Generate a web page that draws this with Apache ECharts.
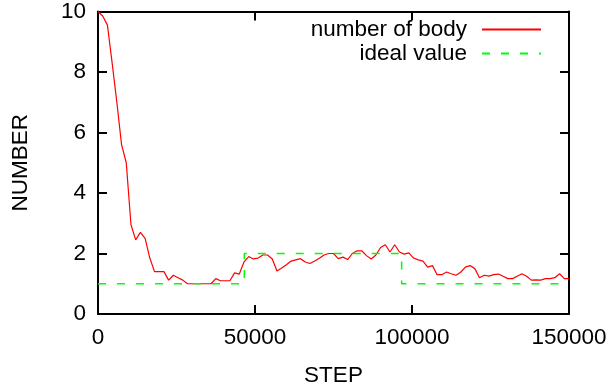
<!DOCTYPE html>
<html>
<head>
<meta charset="utf-8">
<script src="https://cdn.jsdelivr.net/npm/echarts@6/dist/echarts.min.js"></script>
<style>html,body{margin:0;padding:0;background:#fff}#c{width:614px;height:392px}</style>
</head>
<body>
<div id="c"></div>
<script>
var steps = [0,1500,3000,4500,6000,7500,9000,10500,12000,13500,15000,16500,18000,19500,21000,22500,24000,25500,27000,28500,30000,31500,33000,34500,36000,37500,39000,40500,42000,43500,45000,46500,48000,49500,51000,52500,54000,55500,57000,58500,60000,61500,63000,64500,66000,67500,69000,70500,72000,73500,75000,76500,78000,79500,81000,82500,84000,85500,87000,88500,90000,91500,93000,94500,96000,97500,99000,100500,102000,103500,105000,106500,108000,109500,111000,112500,114000,115500,117000,118500,120000,121500,123000,124500,126000,127500,129000,130500,132000,133500,135000,136500,138000,139500,141000,142500,144000,145500,147000,148500,150000];
var bodyCount = [10.0,9.85,9.55,8.3,7.0,5.6,5.0,2.95,2.45,2.7,2.5,1.85,1.4,1.4,1.4,1.12,1.28,1.2,1.12,1.0,1.0,1.0,1.0,1.0,1.0,1.17,1.1,1.1,1.1,1.36,1.32,1.72,1.9,1.82,1.85,1.95,1.95,1.82,1.42,1.52,1.63,1.75,1.79,1.83,1.72,1.67,1.75,1.84,1.95,2.0,2.0,1.83,1.88,1.8,2.0,2.09,2.09,1.93,1.82,1.95,2.2,2.29,2.05,2.29,2.05,1.98,2.02,1.85,1.79,1.75,1.55,1.6,1.3,1.3,1.39,1.33,1.28,1.38,1.55,1.6,1.5,1.2,1.28,1.25,1.3,1.32,1.25,1.17,1.17,1.25,1.33,1.25,1.12,1.13,1.12,1.17,1.17,1.2,1.33,1.17,1.17];
var idealSteps = [0,46600,46600,96700,96700,150000];
var idealValues = [1,1,2,2,1,1];
var xTicks = [0,50000,100000,150000];
var yTicks = [0,2,4,6,8,10];

var FONT = "'Liberation Sans', Arial, sans-serif";
var FS = 22.5;
var bodyData = steps.map(function(s,i){return [s, bodyCount[i]];});
var idealData = idealSteps.map(function(s,i){return [s, idealValues[i]];});

function xAx(pos, show){
  return {type:'value', position:pos, min:xTicks[0], max:xTicks[xTicks.length-1], interval:xTicks[1]-xTicks[0],
    name: show ? 'STEP' : '', nameLocation:'middle', nameGap:50,
    nameTextStyle:{color:'#000', fontSize:FS, fontFamily:FONT},
    axisLine:{show:true, onZero:false, lineStyle:{color:'#000', width:2}},
    axisTick:{show:true, inside:true, length:9, lineStyle:{color:'#000', width:2}},
    axisLabel:{show:show, color:'#000', fontSize:FS, fontFamily:FONT, margin:12,
      formatter:function(v){return String(v);}},
    splitLine:{show:false}};
}
function yAx(pos, show){
  return {type:'value', position:pos, min:yTicks[0], max:yTicks[yTicks.length-1], interval:yTicks[1]-yTicks[0],
    name: show ? 'NUMBER' : '', nameLocation:'middle', nameGap:66, nameRotate:90,
    nameTextStyle:{color:'#000', fontSize:FS, fontFamily:FONT},
    axisLine:{show:true, onZero:false, lineStyle:{color:'#000', width:2}},
    axisTick:{show:true, inside:true, length:9, lineStyle:{color:'#000', width:2}},
    axisLabel:{show:show, color:'#000', fontSize:FS, fontFamily:FONT, margin:12, padding:[4,0,0,0]},
    splitLine:{show:false}};
}

var chart = echarts.init(document.getElementById('c'), null, {renderer:'canvas'});
chart.setOption({
  animation:false,
  backgroundColor:'#fff',
  grid:{left:98, right:45, top:9, bottom:74},
  legend:[
    {data:['number of body'], right:72, top:18, padding:0, align:'right', orient:'vertical',
     itemWidth:59, itemHeight:14, itemStyle:{opacity:0},
     textStyle:{color:'#000', fontSize:FS, fontFamily:FONT, padding:[0,10,0,0]}},
    {data:['ideal value'], right:72, top:42, padding:0, align:'right', orient:'vertical',
     itemWidth:59, itemHeight:14, itemStyle:{opacity:0},
     textStyle:{color:'#000', fontSize:FS, fontFamily:FONT, padding:[0,10,0,0]}}
  ],
  xAxis:[xAx('bottom', true), xAx('top', false)],
  yAxis:[yAx('left', true), yAx('right', false)],
  series:[
    {name:'number of body', type:'line', data:bodyData, xAxisIndex:0, yAxisIndex:0,
     symbol:'none', lineStyle:{color:'#ff0000', width:1.2}, itemStyle:{color:'#ff0000'}, z:2},
    {name:'ideal value', type:'line', data:idealData, xAxisIndex:0, yAxisIndex:0,
     symbol:'none', lineStyle:{color:'#00ff00', width:1.5, type:[8,11]}, itemStyle:{color:'#00ff00'}, z:3}
  ]
});
</script>
</body>
</html>
